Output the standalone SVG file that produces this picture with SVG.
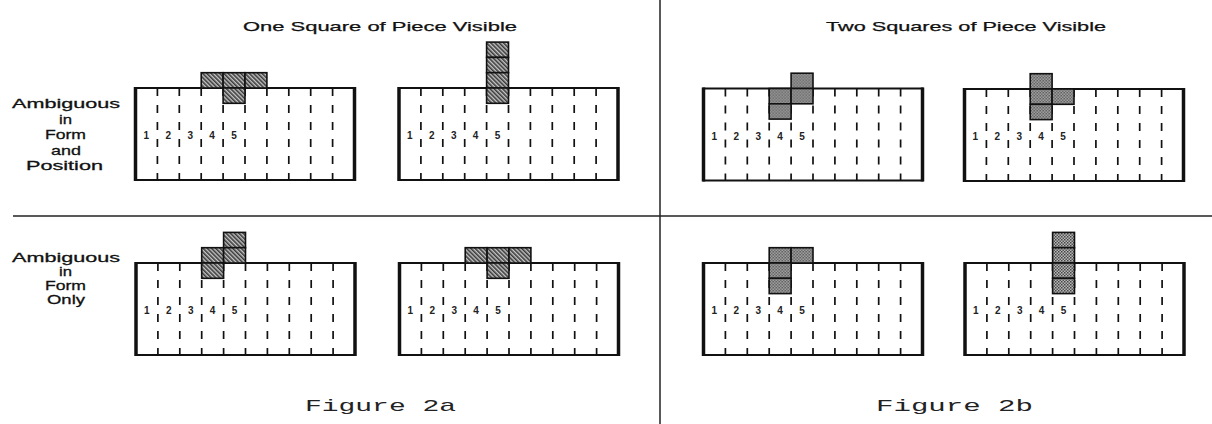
<svg xmlns="http://www.w3.org/2000/svg" width="1212" height="424" viewBox="0 0 1212 424">
<defs>
<pattern id="hatch" width="3" height="3" patternUnits="userSpaceOnUse" patternTransform="rotate(-45)">
<rect width="3" height="3" fill="#c8c8c8"/><rect width="1.6" height="3" fill="#3a3a3a"/>
</pattern>
<pattern id="dots" width="3" height="3" patternUnits="userSpaceOnUse">
<rect width="3" height="3" fill="#b8b8b8"/><rect width="1.5" height="1.5" fill="#444"/><rect x="1.5" y="1.5" width="1.5" height="1.5" fill="#555"/>
</pattern>
<style>
.frame{fill:#fff;stroke:#111;stroke-width:2}
.side{stroke:#111;stroke-width:3.5}
.col{stroke:#111;stroke-width:1.7;stroke-dasharray:8 9}
.h{fill:url(#hatch);stroke:#111;stroke-width:1.6}
.d{fill:url(#dots);stroke:#111;stroke-width:1.6}
.num{font-family:"Liberation Sans",Arial,sans-serif;font-size:10px;font-weight:bold;fill:#222;text-anchor:middle}
.lbl{font-family:"Liberation Sans",Arial,sans-serif;font-size:13.5px;fill:#111;stroke:#111;stroke-width:0.3}
.ttl{font-family:"Liberation Sans",Arial,sans-serif;font-size:13px;fill:#111;stroke:#111;stroke-width:0.25}
.cap{font-family:"Liberation Mono","Courier New",monospace;font-size:17px;fill:#222}
.div{stroke:#222;stroke-width:1.5}
</style>
<g id="boardBase">
<rect class="frame" x="0" y="0" width="219" height="92"/>
<line class="side" x1="0" y1="-1" x2="0" y2="93"/>
<line class="side" x1="219" y1="-1" x2="219" y2="93"/>
<line class="col" x1="21.9" y1="0" x2="21.9" y2="92"/>
<line class="col" x1="43.8" y1="0" x2="43.8" y2="92"/>
<line class="col" x1="65.7" y1="0" x2="65.7" y2="92"/>
<line class="col" x1="87.6" y1="0" x2="87.6" y2="92"/>
<line class="col" x1="109.5" y1="0" x2="109.5" y2="92"/>
<line class="col" x1="131.4" y1="0" x2="131.4" y2="92"/>
<line class="col" x1="153.3" y1="0" x2="153.3" y2="92"/>
<line class="col" x1="175.2" y1="0" x2="175.2" y2="92"/>
<line class="col" x1="197.1" y1="0" x2="197.1" y2="92"/>
<text class="num" x="10.9" y="51">1</text>
<text class="num" x="32.8" y="51">2</text>
<text class="num" x="54.7" y="51">3</text>
<text class="num" x="76.6" y="51">4</text>
<text class="num" x="98.5" y="51">5</text>
</g>
</defs>
<rect width="1212" height="424" fill="#fff"/>

<g id="dividers">
<line class="div" x1="660" y1="0" x2="660" y2="424"/>
<line class="div" x1="13" y1="216" x2="1212" y2="216"/>
</g>

<g id="titles">
<text class="ttl" x="243" y="31" textLength="274" lengthAdjust="spacingAndGlyphs">One Square of Piece Visible</text>
<text class="ttl" x="826" y="31" textLength="280" lengthAdjust="spacingAndGlyphs">Two Squares of Piece Visible</text>
</g>

<g id="row-label-top">
<text class="lbl" x="12" y="108" textLength="108" lengthAdjust="spacingAndGlyphs">Ambiguous</text>
<text class="lbl" x="59" y="123.5" textLength="13" lengthAdjust="spacingAndGlyphs">in</text>
<text class="lbl" x="45" y="139" textLength="41" lengthAdjust="spacingAndGlyphs">Form</text>
<text class="lbl" x="51" y="154.5" textLength="30" lengthAdjust="spacingAndGlyphs">and</text>
<text class="lbl" x="26" y="170" textLength="77" lengthAdjust="spacingAndGlyphs">Position</text>
</g>

<g id="row-label-bottom">
<text class="lbl" x="12" y="262" textLength="108" lengthAdjust="spacingAndGlyphs">Ambiguous</text>
<text class="lbl" x="59" y="276" textLength="13" lengthAdjust="spacingAndGlyphs">in</text>
<text class="lbl" x="45" y="290" textLength="41" lengthAdjust="spacingAndGlyphs">Form</text>
<text class="lbl" x="47" y="304" textLength="38" lengthAdjust="spacingAndGlyphs">Only</text>
</g>

<g id="board-1" transform="translate(135.5,88)">
<use href="#boardBase"/>
<rect class="h" x="65.7" y="-15.3" width="21.9" height="15.3"/>
<rect class="h" x="87.6" y="-15.3" width="21.9" height="15.3"/>
<rect class="h" x="109.5" y="-15.3" width="21.9" height="15.3"/>
<rect class="h" x="87.6" y="0" width="21.9" height="15.3"/>
</g>

<g id="board-2" transform="translate(399,88)">
<use href="#boardBase"/>
<rect class="h" x="87.6" y="-45.9" width="21.9" height="15.3"/>
<rect class="h" x="87.6" y="-30.6" width="21.9" height="15.3"/>
<rect class="h" x="87.6" y="-15.3" width="21.9" height="15.3"/>
<rect class="h" x="87.6" y="0" width="21.9" height="15.3"/>
</g>

<g id="board-3" transform="translate(703.5,88.5)">
<use href="#boardBase"/>
<rect class="d" x="87.6" y="-15.3" width="21.9" height="15.3"/>
<rect class="d" x="65.7" y="0" width="21.9" height="15.3"/>
<rect class="d" x="87.6" y="0" width="21.9" height="15.3"/>
<rect class="d" x="65.7" y="15.3" width="21.9" height="15.3"/>
</g>

<g id="board-4" transform="translate(964.5,89)">
<use href="#boardBase"/>
<rect class="d" x="65.7" y="-15.3" width="21.9" height="15.3"/>
<rect class="d" x="65.7" y="0" width="21.9" height="15.3"/>
<rect class="d" x="65.7" y="15.3" width="21.9" height="15.3"/>
<rect class="d" x="87.6" y="0" width="21.9" height="15.3"/>
</g>

<g id="board-5" transform="translate(136,263)">
<use href="#boardBase"/>
<rect class="h" x="87.6" y="-30.6" width="21.9" height="15.3"/>
<rect class="h" x="65.7" y="-15.3" width="21.9" height="15.3"/>
<rect class="h" x="87.6" y="-15.3" width="21.9" height="15.3"/>
<rect class="h" x="65.7" y="0" width="21.9" height="15.3"/>
</g>

<g id="board-6" transform="translate(399.5,263)">
<use href="#boardBase"/>
<rect class="h" x="65.7" y="-15.3" width="21.9" height="15.3"/>
<rect class="h" x="87.6" y="-15.3" width="21.9" height="15.3"/>
<rect class="h" x="109.5" y="-15.3" width="21.9" height="15.3"/>
<rect class="h" x="87.6" y="0" width="21.9" height="15.3"/>
</g>

<g id="board-7" transform="translate(703.5,263)">
<use href="#boardBase"/>
<rect class="d" x="65.7" y="-15.3" width="21.9" height="15.3"/>
<rect class="d" x="87.6" y="-15.3" width="21.9" height="15.3"/>
<rect class="d" x="65.7" y="0" width="21.9" height="15.3"/>
<rect class="d" x="65.7" y="15.3" width="21.9" height="15.3"/>
</g>

<g id="board-8" transform="translate(965,263)">
<use href="#boardBase"/>
<rect class="d" x="87.6" y="-30.6" width="21.9" height="15.3"/>
<rect class="d" x="87.6" y="-15.3" width="21.9" height="15.3"/>
<rect class="d" x="87.6" y="0" width="21.9" height="15.3"/>
<rect class="d" x="87.6" y="15.3" width="21.9" height="15.3"/>
</g>

<g id="captions">
<text class="cap" x="305" y="411" textLength="151" lengthAdjust="spacingAndGlyphs">Figure 2a</text>
<text class="cap" x="876" y="411" textLength="157" lengthAdjust="spacingAndGlyphs">Figure 2b</text>
</g>
</svg>
